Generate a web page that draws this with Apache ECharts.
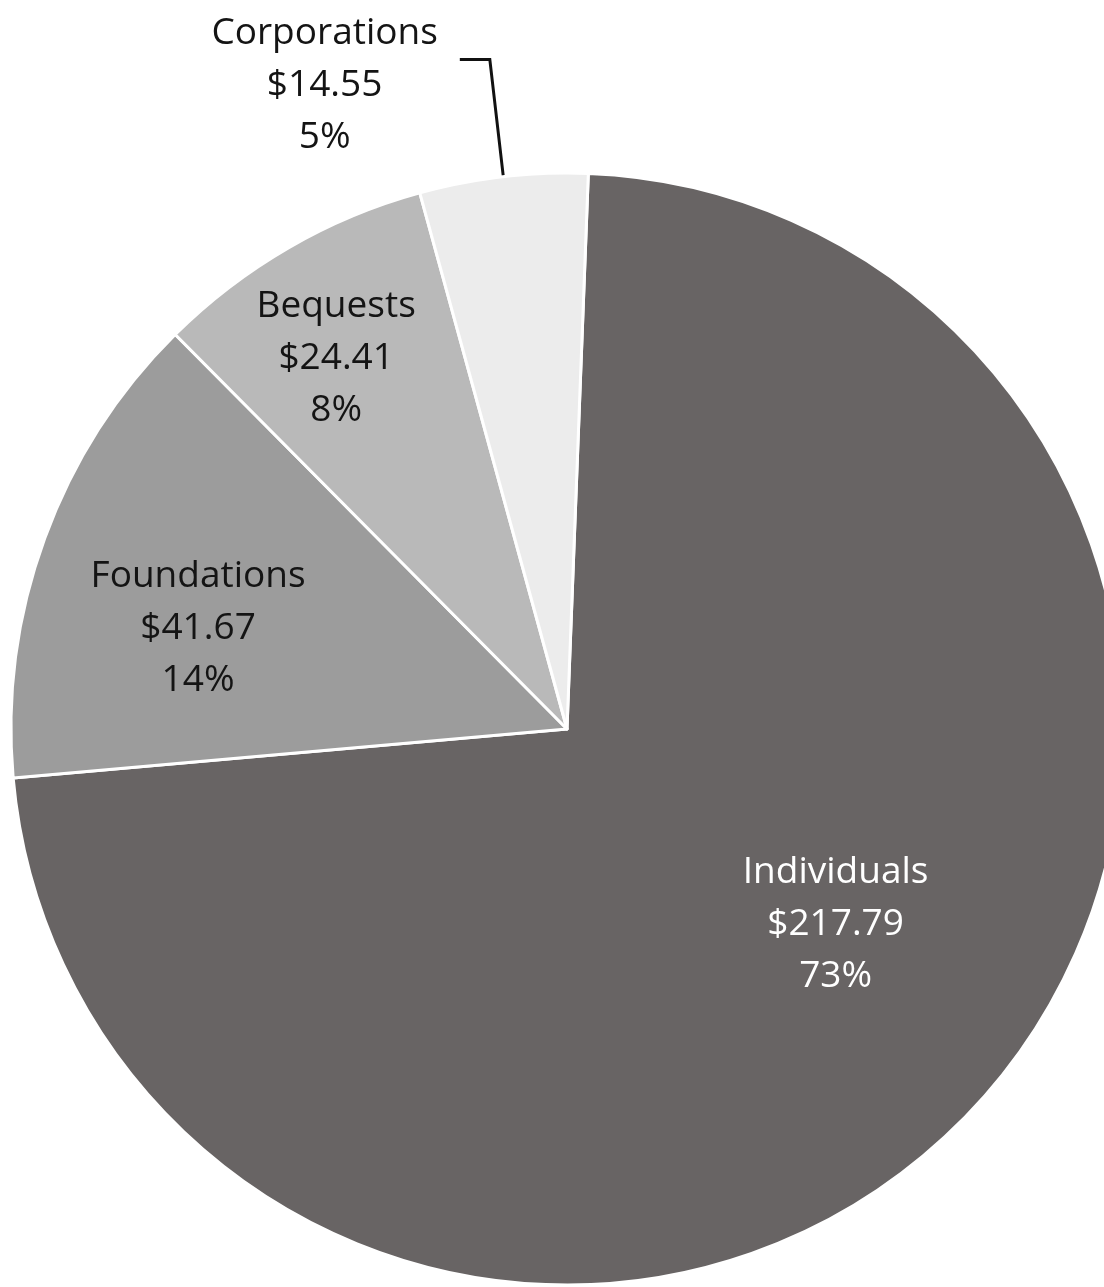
<!DOCTYPE html>
<html>
<head>
<meta charset="utf-8">
<script src="https://cdn.jsdelivr.net/npm/echarts@6/dist/echarts.min.js"></script>
<style>
html,body{margin:0;padding:0;background:#ffffff;}
#chart{width:1104px;height:1287px;}
</style>
</head>
<body>
<div id="chart"></div>
<script>
const categories = ['Individuals', 'Foundations', 'Bequests', 'Corporations'];
const values = [217.79, 41.67, 24.41, 14.55];

const colors = ['#686464', '#9c9c9c', '#b9b9b9', '#ececec'];
const labelColors = ['#ffffff', '#141414', '#141414', '#141414'];
const labelShift = [[65, 2], [-105, -4], [-90, -127], [-4, 26]];

const chart = echarts.init(document.getElementById('chart'), null, {renderer: 'canvas'});

const data = categories.map((name, i) => ({
  name: name,
  value: values[i],
  itemStyle: {color: colors[i]},
  label: {
    color: labelColors[i],
    position: i === 3 ? 'outside' : 'inside'
  },
  labelLine: {show: i === 3}
}));

chart.setOption({
  backgroundColor: '#ffffff',
  animation: false,
  series: [{
    type: 'pie',
    center: [567, 729],
    radius: 556,
    startAngle: 87.8,
    clockwise: true,
    percentPrecision: 0,
    avoidLabelOverlap: false,
    itemStyle: {borderColor: '#ffffff', borderWidth: 3},
    label: {
      show: true,
      fontFamily: 'Open Sans',
      fontSize: 37,
      lineHeight: 52,
      align: 'center',
      distanceToLabelLine: 18,
      formatter: p => p.name + '\n$' + p.value.toFixed(2) + '\n' + p.percent + '%'
    },
    labelLine: {
      length: 118,
      length2: 30,
      smooth: false,
      lineStyle: {color: '#111111', width: 3}
    },
    labelLayout: function (params) {
      const s = labelShift[params.dataIndex];
      const out = {dx: s[0], dy: s[1]};
      if (params.labelLinePoints) {
        out.labelLinePoints = params.labelLinePoints;
        out.align = 'center';
        out.dx = s[0] - params.labelRect.width / 2;
      }
      return out;
    },
    data: data
  }]
});
</script>
</body>
</html>
